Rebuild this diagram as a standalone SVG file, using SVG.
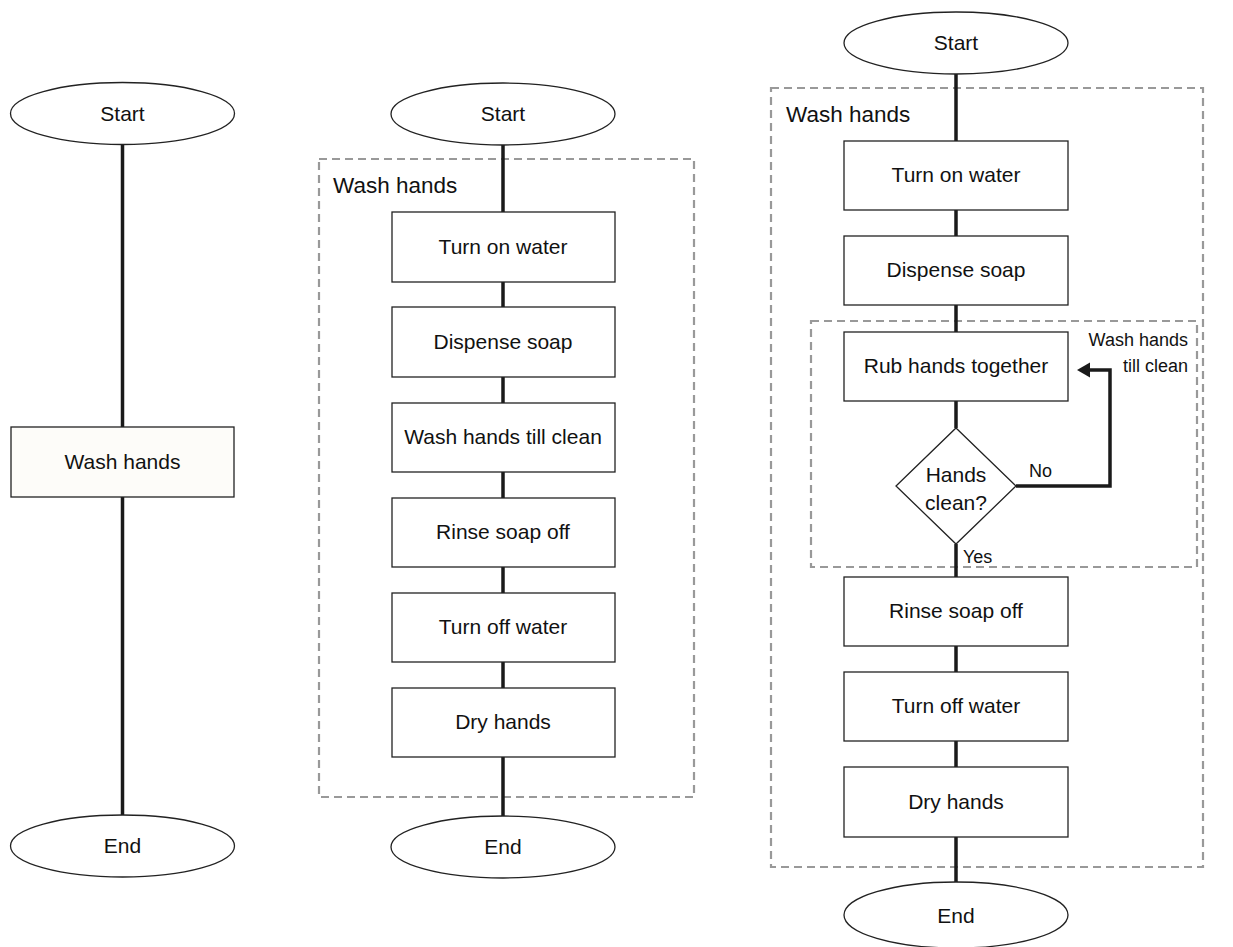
<svg xmlns="http://www.w3.org/2000/svg" width="1233" height="947" viewBox="0 0 1233 947">
<defs>
<style>
text{font-family:"Liberation Sans",Arial,sans-serif;fill:#111;}
.t{font-size:21px;text-anchor:middle;}
.g{font-size:22.5px;}
.s{font-size:18px;}
.box{fill:#fff;stroke:#222;stroke-width:1.3;}
.ell{fill:#fff;stroke:#222;stroke-width:1.3;}
.dash{fill:none;stroke:#999;stroke-width:2.2;stroke-dasharray:8 5;}
.c{stroke:#1a1a1a;stroke-width:3.5;fill:none;}
</style>
</defs>
<rect width="1233" height="947" fill="#fff"/>

<!-- group containers -->
<g id="group2"><rect class="dash" x="319" y="159" width="375" height="638"/><text class="g" x="333" y="193">Wash hands</text></g>
<g id="group3"><rect class="dash" x="771" y="88" width="432" height="779"/><text class="g" x="786" y="122">Wash hands</text></g>
<g id="group3inner"><rect class="dash" x="811" y="321" width="386" height="246"/>
<text class="s" x="1188" y="346" text-anchor="end">Wash hands</text>
<text class="s" x="1188" y="372" text-anchor="end">till clean</text></g>

<!-- connectors -->
<g id="connectors">
<line class="c" x1="122.5" y1="145" x2="122.5" y2="427"/>
<line class="c" x1="122.5" y1="497" x2="122.5" y2="815"/>
<line class="c" x1="503" y1="145" x2="503" y2="212"/>
<line class="c" x1="503" y1="282" x2="503" y2="307"/>
<line class="c" x1="503" y1="377" x2="503" y2="403"/>
<line class="c" x1="503" y1="472" x2="503" y2="498"/>
<line class="c" x1="503" y1="567" x2="503" y2="593"/>
<line class="c" x1="503" y1="662" x2="503" y2="688"/>
<line class="c" x1="503" y1="757" x2="503" y2="816"/>
<line class="c" x1="956" y1="74" x2="956" y2="141"/>
<line class="c" x1="956" y1="210" x2="956" y2="236"/>
<line class="c" x1="956" y1="305" x2="956" y2="332"/>
<line class="c" x1="956" y1="401" x2="956" y2="428"/>
<line class="c" x1="956" y1="544" x2="956" y2="577"/>
<line class="c" x1="956" y1="646" x2="956" y2="672"/>
<line class="c" x1="956" y1="741" x2="956" y2="767"/>
<line class="c" x1="956" y1="837" x2="956" y2="882"/>
<polyline class="c" points="1016,486 1110,486 1110,370 1086,370"/>
<path d="M1077,370 L1090,362.5 L1090,377.5 Z" fill="#1a1a1a"/>
<text class="s" x="1029" y="477">No</text>
<text class="s" x="963" y="563">Yes</text>
</g>

<!-- column 1 -->
<g id="start1"><ellipse class="ell" cx="122.5" cy="113.5" rx="112" ry="31"/><text class="t" x="122.5" y="121">Start</text></g>
<g id="wash1"><rect x="11" y="427" width="223" height="70" fill="#fdfcf9" stroke="#222" stroke-width="1.3"/><text class="t" x="122.5" y="469">Wash hands</text></g>
<g id="end1"><ellipse class="ell" cx="122.5" cy="846" rx="112" ry="31"/><text class="t" x="122.5" y="853">End</text></g>

<!-- column 2 -->
<g id="start2"><ellipse class="ell" cx="503" cy="114" rx="112" ry="31"/><text class="t" x="503" y="121">Start</text></g>
<g id="n2a"><rect class="box" x="392" y="212" width="223" height="70"/><text class="t" x="503" y="254">Turn on water</text></g>
<g id="n2b"><rect class="box" x="392" y="307" width="223" height="70"/><text class="t" x="503" y="349">Dispense soap</text></g>
<g id="n2c"><rect class="box" x="392" y="403" width="223" height="69"/><text class="t" x="503" y="444">Wash hands till clean</text></g>
<g id="n2d"><rect class="box" x="392" y="498" width="223" height="69"/><text class="t" x="503" y="539">Rinse soap off</text></g>
<g id="n2e"><rect class="box" x="392" y="593" width="223" height="69"/><text class="t" x="503" y="634">Turn off water</text></g>
<g id="n2f"><rect class="box" x="392" y="688" width="223" height="69"/><text class="t" x="503" y="729">Dry hands</text></g>
<g id="end2"><ellipse class="ell" cx="503" cy="847" rx="112" ry="31"/><text class="t" x="503" y="854">End</text></g>

<!-- column 3 -->
<g id="start3"><ellipse class="ell" cx="956" cy="43" rx="112" ry="31"/><text class="t" x="956" y="50">Start</text></g>
<g id="n3a"><rect class="box" x="844" y="141" width="224" height="69"/><text class="t" x="956" y="182">Turn on water</text></g>
<g id="n3b"><rect class="box" x="844" y="236" width="224" height="69"/><text class="t" x="956" y="277">Dispense soap</text></g>
<g id="n3c"><rect class="box" x="844" y="332" width="224" height="69"/><text class="t" x="956" y="373">Rub hands together</text></g>
<g id="n3d"><polygon class="box" points="956,428 1016,486 956,544 896,486"/><text class="t" x="956" y="482">Hands</text><text class="t" x="956" y="510">clean?</text></g>
<g id="n3e"><rect class="box" x="844" y="577" width="224" height="69"/><text class="t" x="956" y="618">Rinse soap off</text></g>
<g id="n3f"><rect class="box" x="844" y="672" width="224" height="69"/><text class="t" x="956" y="713">Turn off water</text></g>
<g id="n3g"><rect class="box" x="844" y="767" width="224" height="70"/><text class="t" x="956" y="809">Dry hands</text></g>
<g id="end3"><ellipse class="ell" cx="956" cy="915" rx="112" ry="33"/><text class="t" x="956" y="923">End</text></g>
</svg>
